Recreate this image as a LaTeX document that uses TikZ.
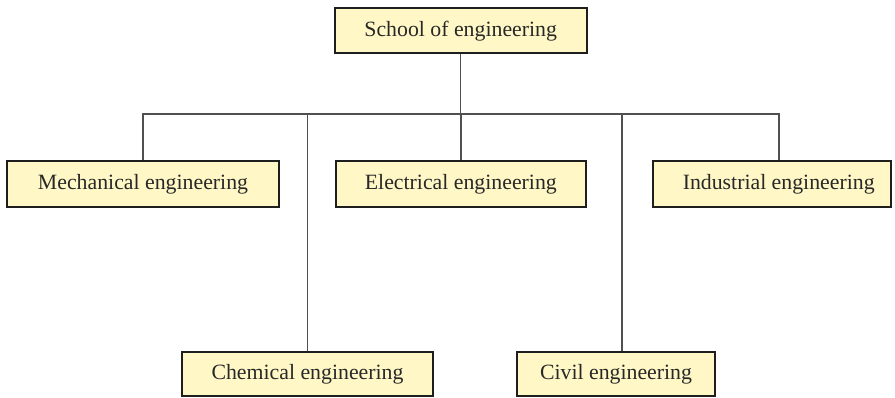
\documentclass[tikz,border=0pt]{standalone}
\usepackage{fontspec}
\setmainfont{Liberation Serif}
\definecolor{boxfill}{RGB}{255,248,198}
\definecolor{boxline}{RGB}{30,30,30}
\definecolor{wire}{RGB}{80,80,80}
\definecolor{label}{RGB}{40,40,40}
\begin{document}
\begin{tikzpicture}[x=0.5pt,y=-0.5pt,
  unitbox/.style={draw=boxline,line width=0.9pt,fill=boxfill,inner sep=0pt,
    minimum height=22.85pt,text=label,font=\fontsize{10.9}{12}\selectfont},
  wireline/.style={draw=wire,line width=0.7pt}]
  \useasboundingbox (0,0) rectangle (895,397);

  % root of the chart
  \node[unitbox,minimum width=126pt,minimum height=22.5pt] (school) at (460.7,30.8) {School of engineering};

  % departments, upper row
  \node[unitbox,minimum width=136.3pt] (mech) at (143,183.85) {Mechanical engineering};
  \node[unitbox,minimum width=124.85pt] (elec) at (460.85,183.85) {Electrical engineering};
  \node[unitbox,minimum width=118.85pt] (ind) at (772.2,183.85) {\hspace*{6.5pt}Industrial engineering};

  % departments, lower row
  \node[unitbox,minimum width=125.8pt,minimum height=21.85pt] (chem) at (307.5,374.1) {Chemical engineering};
  \node[unitbox,minimum width=99pt,minimum height=21.85pt] (civil) at (616,374.1) {Civil engineering};

  % horizontal bus and its taps
  \coordinate (bus) at (460.7,114);
  \coordinate (indtap) at (779,114);
  \coordinate (civtap) at (622,114);

  \draw[wireline] (school.south) -- (bus);
  \draw[wireline] (mech.north) |- (bus);
  \draw[wireline] (chem.north) |- (bus);
  \draw[wireline] (elec.north) -- (elec.north |- bus);
  \draw[wireline] (bus) -- (indtap) -- (indtap |- ind.north);
  \draw[wireline] (civtap) -- (civtap |- civil.north);
\end{tikzpicture}
\end{document}
